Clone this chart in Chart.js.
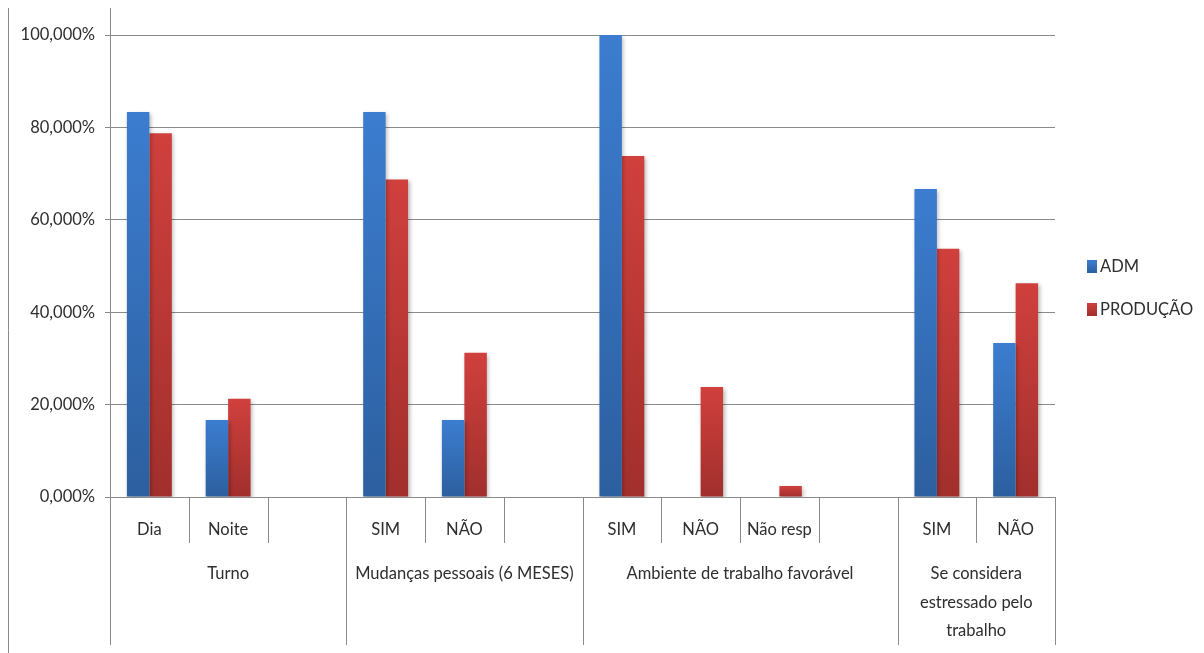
<!DOCTYPE html>
<html>
<head>
<meta charset="utf-8">
<title>ADM x PRODUÇÃO</title>
<script src="https://cdn.jsdelivr.net/npm/chart.js@4.4.1/dist/chart.umd.min.js"></script>
<style>
  html, body { margin: 0; padding: 0; background: #ffffff; }
  #wrap { width: 1204px; height: 653px; position: relative; }
</style>
</head>
<body>
<div id="wrap"><canvas id="chart" width="1204" height="653"></canvas></div>
<script>
// Sub-categories along the x axis (empty slots separate the groups)
const categories = ['Dia', 'Noite', '', 'SIM', 'NÃO', '', 'SIM', 'NÃO', 'Não resp', '', 'SIM', 'NÃO'];

// Group captions (one array of lines per group) and the category index where each group starts / ends
const groupLabels = [
  ['Turno'],
  ['Mudanças pessoais (6 MESES)'],
  ['Ambiente de trabalho favorável'],
  ['Se considera', 'estressado pelo', 'trabalho']
];
const groupStarts = [0, 3, 6, 10];
const groupEnds = [3, 6, 10, 12];

// Series values, in percent
const seriesNames = ['ADM', 'PRODUÇÃO'];
const admValues = [83.33, 16.67, null, 83.33, 16.67, null, 100, 0, 0, null, 66.67, 33.33];
const producaoValues = [78.72, 21.28, null, 68.75, 31.25, null, 73.81, 23.81, 2.38, null, 53.75, 46.25];

// Value axis ticks
const yTicks = [0, 20, 40, 60, 80, 100];

const FONT = 'Lato, "Open Sans", sans-serif';
const FONT_SIZE = 16.5;
const TEXT_COLOR = '#2e2e2e';
const LINE_COLOR = '#8a8a8a';

const palette = [
  { top: '#3c7dd0', bottom: '#2c5f9f' },
  { top: '#d0403d', bottom: '#a12f2c' }
];

// Vertical gradient for each bar, light at the top and dark at its base
function barFill(paletteIndex) {
  return (ctx) => {
    const chart = ctx.chart;
    const colors = palette[paletteIndex];
    const y = chart.scales && chart.scales.y;
    if (!chart.chartArea || !y || ctx.raw == null) return colors.top;
    const top = y.getPixelForValue(ctx.raw);
    const base = y.getPixelForValue(0);
    if (!(base - top > 0.5)) return colors.top;
    const g = chart.ctx.createLinearGradient(0, top, 0, base);
    g.addColorStop(0, colors.top);
    g.addColorStop(1, colors.bottom);
    return g;
  };
}

function pct(v) {
  return v.toFixed(3).replace('.', ',') + '%';
}

// Soft drop shadow under the bars
const barShadow = {
  id: 'barShadow',
  beforeDatasetsDraw(chart) {
    const c = chart.ctx;
    c.save();
    c.shadowColor = 'rgba(0,0,0,0.28)';
    c.shadowBlur = 4;
    c.shadowOffsetX = 1.5;
    c.shadowOffsetY = 2;
  },
  afterDatasetsDraw(chart) {
    chart.ctx.restore();
  }
};

// Axis frame, category dividers, group captions and the legend
const axisDecor = {
  id: 'axisDecor',
  afterDraw(chart) {
    const c = chart.ctx;
    const area = chart.chartArea;
    const xs = chart.scales.x;
    const n = categories.length;
    const shortEnd = area.bottom + 46;
    const longEnd = 645;

    c.save();
    c.strokeStyle = LINE_COLOR;
    c.lineWidth = 1;

    // outer left rule and the extended value-axis line
    c.beginPath();
    c.moveTo(8.5, 8); c.lineTo(8.5, 653);
    c.moveTo(Math.round(area.left) + 0.5, 8); c.lineTo(Math.round(area.left) + 0.5, longEnd);
    c.stroke();

    // boundaries between categories
    const boundary = (i) => {
      if (i === 0) return area.left;
      if (i === n) return area.right;
      return (xs.getPixelForValue(i - 1) + xs.getPixelForValue(i)) / 2;
    };
    const groupEdges = new Set([...groupStarts, ...groupEnds]);
    c.beginPath();
    for (let i = 1; i <= n; i++) {
      const x = Math.round(boundary(i)) + 0.5;
      c.moveTo(x, area.bottom);
      c.lineTo(x, groupEdges.has(i) ? longEnd : shortEnd);
    }
    c.stroke();

    // group captions
    c.fillStyle = TEXT_COLOR;
    c.font = FONT_SIZE + 'px ' + FONT;
    c.textAlign = 'center';
    c.textBaseline = 'middle';
    groupLabels.forEach((lines, g) => {
      const cx = (boundary(groupStarts[g]) + boundary(groupEnds[g])) / 2;
      lines.forEach((line, k) => {
        c.fillText(line, cx, 574 + k * 28.5);
      });
    });

    // legend
    c.textAlign = 'left';
    chart.data.datasets.forEach((ds, i) => {
      const y0 = 260 + i * 43;
      const g = c.createLinearGradient(0, y0, 0, y0 + 13);
      g.addColorStop(0, palette[i].top);
      g.addColorStop(1, palette[i].bottom);
      c.fillStyle = g;
      c.fillRect(1087, y0, 10, 13);
      c.fillStyle = TEXT_COLOR;
      c.fillText(ds.label, 1100, y0 + 7);
    });
    c.restore();
  }
};

new Chart(document.getElementById('chart'), {
  type: 'bar',
  data: {
    labels: categories,
    datasets: [
      { label: seriesNames[0], data: admValues, backgroundColor: barFill(0), borderWidth: 0 },
      { label: seriesNames[1], data: producaoValues, backgroundColor: barFill(1), borderWidth: 0 }
    ]
  },
  options: {
    responsive: false,
    animation: false,
    events: [],
    layout: { padding: { top: 35, right: 149, bottom: 0, left: 0 } },
    datasets: {
      bar: { categoryPercentage: 0.57, barPercentage: 1.0 }
    },
    plugins: {
      legend: { display: false },
      tooltip: { enabled: false },
      title: { display: false }
    },
    scales: {
      x: {
        grid: { display: false },
        border: { display: false },
        ticks: {
          autoSkip: false,
          maxRotation: 0,
          minRotation: 0,
          padding: 15,
          color: TEXT_COLOR,
          font: { family: FONT, size: FONT_SIZE }
        },
        afterFit(scale) { scale.height = 156; }
      },
      y: {
        min: 0,
        max: 100,
        afterBuildTicks(scale) { scale.ticks = yTicks.map(v => ({ value: v })); },
        grid: {
          color: LINE_COLOR,
          lineWidth: 1,
          tickLength: 5,
          drawOnChartArea: true
        },
        border: { display: true, color: LINE_COLOR },
        ticks: {
          padding: 10,
          color: TEXT_COLOR,
          font: { family: FONT, size: FONT_SIZE },
          callback: (v) => pct(v)
        },
        afterFit(scale) { scale.width = 110; }
      }
    }
  },
  plugins: [barShadow, axisDecor]
});
</script>
</body>
</html>
